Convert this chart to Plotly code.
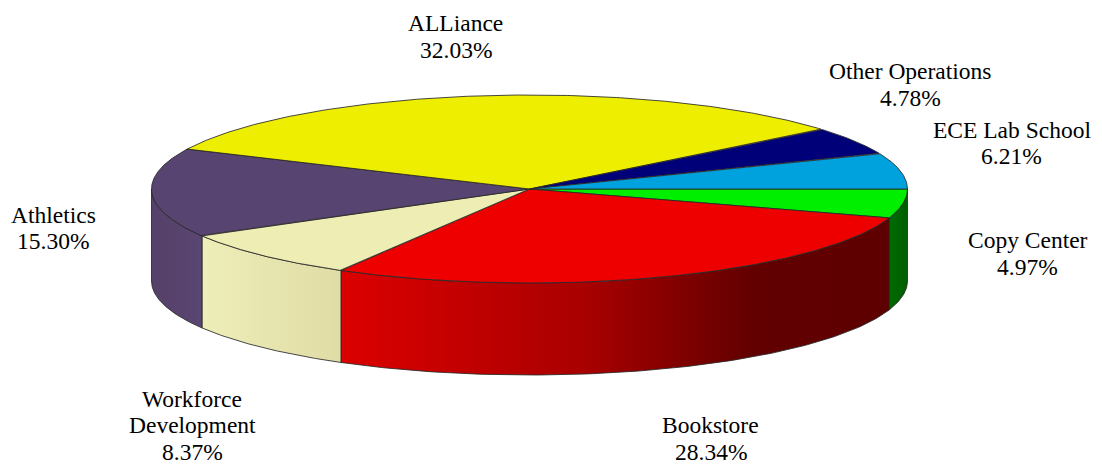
import numpy as np
import plotly.graph_objects as go

# ---- data ----
categories = ["Copy Center", "Bookstore", "Workforce Development", "Athletics",
              "ALLiance", "Other Operations", "ECE Lab School"]
shares = [4.97, 28.34, 8.37, 15.30, 32.03, 4.78, 6.21]
label_lines = [["Copy Center"], ["Bookstore"], ["Workforce", "Development"], ["Athletics"],
               ["ALLiance"], ["Other Operations"], ["ECE Lab School"]]
top_colors = ["#00ee00", "#ee0000", "#eeeeb4", "#584470", "#eeee00", "#000078", "#00a2de"]
side_scales = [
    [[0, "#006a00"], [1, "#005e00"]],
    [[0, "#dc0000"], [0.45, "#a80000"], [0.75, "#620000"], [1, "#5e0000"]],
    [[0, "#eeeeb8"], [1, "#e0dca6"]],
    [[0, "#544068"], [1, "#5a4672"]],
    [[0, "#dddd00"], [1, "#cccc00"]],
    [[0, "#000070"], [1, "#000060"]],
    [[0, "#0090c8"], [1, "#0080b0"]],
]
# label centre x and first-line baseline y (pixel-space data coords)
label_x = [1027.5, 710.5, 192, 53.3, 455.7, 910.5, 1011.5]
label_y = [247.7, 432.3, 406, 222, 30.7, 78.3, 137]
line_gap = 26.7

# ---- geometry (layout constants) ----
W, H = 1102, 464
cx, cy, a, b, depth = 529.5, 189.0, 378.0, 94.0, 92.0
FONT = 23.5

def ell(theta, dy=0.0):
    return cx + a * np.cos(theta), cy + b * np.sin(theta) + dy

fig = go.Figure()
total = sum(shares)
cum = np.concatenate([[0], np.cumsum(shares)]) / total * 2 * np.pi

# side faces (front half: 0..pi, screen y downwards)
for i in range(len(shares)):
    t1, t2 = max(cum[i], 0), min(cum[i + 1], np.pi)
    if t2 <= t1:
        continue
    th = np.linspace(t1, t2, 120)
    xt, yt = ell(th)
    xb, yb = ell(th[::-1], depth)
    xs = np.concatenate([xt, xb, xt[:1]])
    ys = np.concatenate([yt, yb, yt[:1]])
    fig.add_trace(go.Scatter(
        x=xs, y=ys, mode="lines", fill="toself",
        fillgradient=dict(type="horizontal", colorscale=side_scales[i]),
        line=dict(color="rgba(40,40,40,0.85)", width=1),
        hoverinfo="skip", showlegend=False))

# top faces
for i in range(len(shares)):
    th = np.linspace(cum[i], cum[i + 1], 200)
    xt, yt = ell(th)
    xs = np.concatenate([[cx], xt, [cx]])
    ys = np.concatenate([[cy], yt, [cy]])
    fig.add_trace(go.Scatter(
        x=xs, y=ys, mode="lines", fill="toself", fillcolor=top_colors[i],
        line=dict(color="rgba(40,40,40,0.85)", width=1),
        name=categories[i], hoverinfo="name", showlegend=False))

# labels: one annotation per line, baseline -> middle offset
for i in range(len(shares)):
    lines = label_lines[i] + [f"{shares[i]:.2f}%"]
    for k, txt in enumerate(lines):
        fig.add_annotation(
            x=label_x[i], y=label_y[i] + k * line_gap - 7.5, xref="x", yref="y",
            text=txt, showarrow=False, align="center",
            xanchor="center", yanchor="middle", borderpad=0,
            font=dict(family="Liberation Serif", size=FONT, color="black"))

fig.update_layout(
    width=W, height=H, margin=dict(l=0, r=0, t=0, b=0),
    paper_bgcolor="white", plot_bgcolor="white",
    xaxis=dict(range=[0, W], visible=False, fixedrange=True),
    yaxis=dict(range=[H, 0], visible=False, fixedrange=True),
)
fig.write_html("out.html")
